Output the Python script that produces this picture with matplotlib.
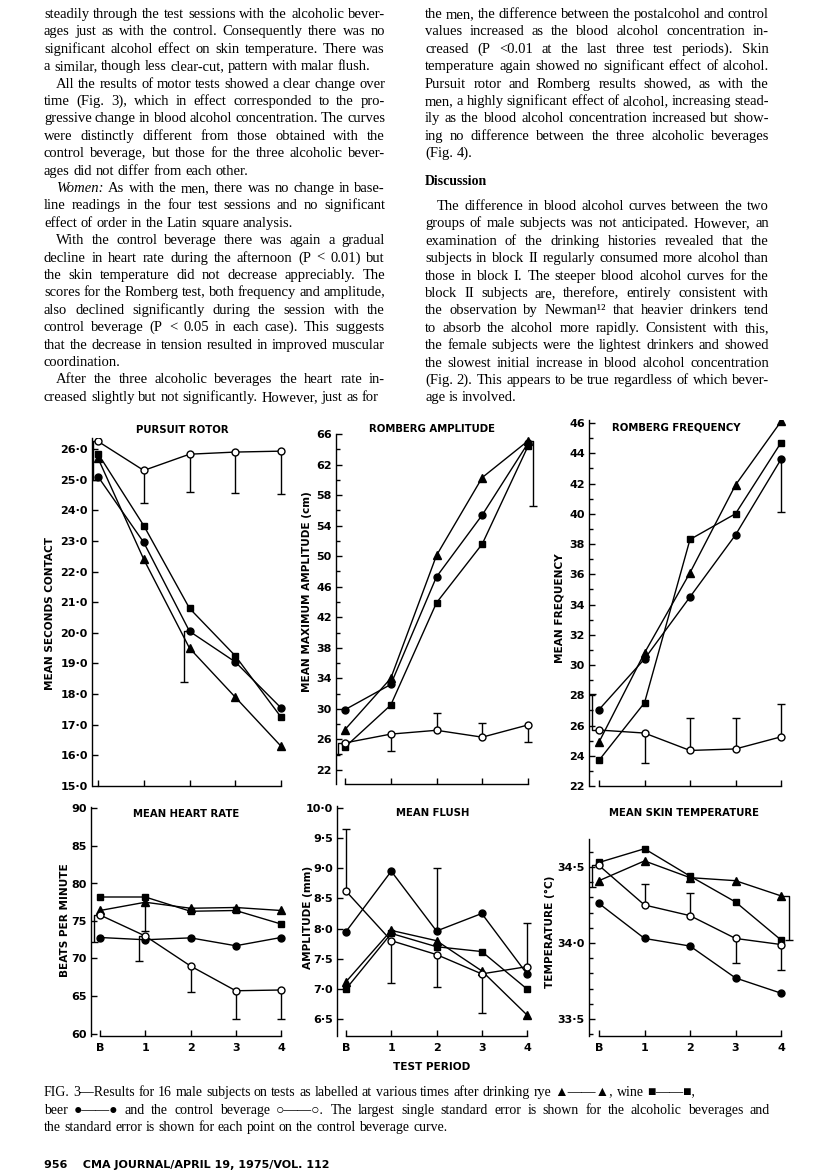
import numpy as np
import matplotlib
matplotlib.use('Agg')
import matplotlib.pyplot as plt
from matplotlib.ticker import FixedLocator, FuncFormatter

W, H = 816, 1175

#######################################################
# data (B = baseline, then test periods 1-4)
periods = [0, 1, 2, 3, 4]
period_labels = ['B', '1', '2', '3', '4']

# pursuit rotor
pr_rye = [25.7, 22.4, 19.5, 17.9, 16.3]
pr_wine = [25.85, 23.5, 20.8, 19.25, 17.25]
pr_beer = [25.1, 22.95, 20.05, 19.05, 17.55]
pr_control = [26.25, 25.3, 25.83, 25.9, 25.93]
pr_control_se = [-1.25, -1.05, -1.23, -1.34, -1.4]
pr_alc_se = (2, 20.05, -1.65)   # period, value, signed SE

# romberg amplitude
ra_rye = [27.3, 34.0, 50.1, 60.3, 65.1]
ra_wine = [25.0, 30.5, 43.9, 51.6, 64.4]
ra_beer = [29.9, 33.2, 47.3, 55.4, 64.8]
ra_control = [25.55, 26.7, 27.2, 26.3, 27.9]
ra_control_se = [-1.4, -2.2, 2.3, 1.85, -2.2]
ra_alc_se = (4, 65.1, -8.5)

# romberg frequency
rf_rye = [24.9, 30.8, 36.1, 41.9, 46.1]
rf_wine = [23.7, 27.5, 38.3, 40.0, 44.7]
rf_beer = [27.05, 30.4, 34.5, 38.6, 43.6]
rf_control = [25.7, 25.5, 24.35, 24.45, 25.25]
rf_control_se = [2.4, -1.95, 2.15, 2.05, 2.15]
rf_alc_se = (4, 43.6, -3.5)

# heart rate
hr_rye = [76.4, 77.5, 76.7, 76.8, 76.4]
hr_wine = [78.2, 78.2, 76.3, 76.4, 74.6]
hr_beer = [72.8, 72.5, 72.75, 71.7, 72.8]
hr_control = [75.8, 73.0, 69.0, 65.7, 65.8]
hr_control_se = [-3.6, -3.3, -3.5, -3.7, -3.8]
hr_alc_se = (1, 78.2, -4.6)

# flush
fl_rye = [7.12, 7.97, 7.8, 7.3, 6.57]
fl_wine = [7.0, 7.92, 7.7, 7.62, 7.0]
fl_beer = [7.95, 8.95, 7.96, 8.25, 7.25]
fl_control = [8.62, 7.8, 7.57, 7.25, 7.37]
fl_control_se = [1.03, -0.7, -0.54, -0.65, 0.72]
fl_alc_se = (2, 7.96, 1.04)

# skin temperature
st_rye = [34.41, 34.54, 34.43, 34.41, 34.31]
st_wine = [34.53, 34.62, 34.44, 34.27, 34.02]
st_beer = [34.26, 34.03, 33.98, 33.77, 33.67]
st_control = [34.51, 34.25, 34.18, 34.03, 33.99]
st_control_se = [-0.14, 0.14, 0.15, -0.16, -0.17]
st_alc_se = (4, 34.31, -0.29)

#######################################################
# page text
left_col = [
    (False, ["steadily through the test sessions with the alcoholic bever-",
             "ages just as with the control. Consequently there was no",
             "significant alcohol effect on skin temperature. There was",
             "a similar, though less clear-cut, pattern with malar flush."]),
    (True, ["All the results of motor tests showed a clear change over",
            "time (Fig. 3), which in effect corresponded to the pro-",
            "gressive change in blood alcohol concentration. The curves",
            "were distinctly different from those obtained with the",
            "control beverage, but those for the three alcoholic bever-",
            "ages did not differ from each other."]),
    (True, ["_Women: As with the men, there was no change in base-",
            "line readings in the four test sessions and no significant",
            "effect of order in the Latin square analysis."]),
    (True, ["With the control beverage there was again a gradual",
            "decline in heart rate during the afternoon (P < 0.01) but",
            "the skin temperature did not decrease appreciably. The",
            "scores for the Romberg test, both frequency and amplitude,",
            "also declined significantly during the session with the",
            "control beverage (P < 0.05 in each case). This suggests",
            "that the decrease in tension resulted in improved muscular",
            "coordination."]),
    (True, ["After the three alcoholic beverages the heart rate in-",
            "creased slightly but not significantly. However, just as for"]),
]
right_col_1 = [
    (False, ["the men, the difference between the postalcohol and control",
             "values increased as the blood alcohol concentration in-",
             "creased (P <0.01 at the last three test periods). Skin",
             "temperature again showed no significant effect of alcohol.",
             "Pursuit rotor and Romberg results showed, as with the",
             "men, a highly significant effect of alcohol, increasing stead-",
             "ily as the blood alcohol concentration increased but show-",
             "ing no difference between the three alcoholic beverages",
             "(Fig. 4)."]),
]
heading = "Discussion"
right_col_2 = [
    (True, ["The difference in blood alcohol curves between the two",
            "groups of male subjects was not anticipated. However, an",
            "examination of the drinking histories revealed that the",
            "subjects in block II regularly consumed more alcohol than",
            "those in block I. The steeper blood alcohol curves for the",
            "block II subjects are, therefore, entirely consistent with",
            "the observation by Newman\u00b9\u00b2 that heavier drinkers tend",
            "to absorb the alcohol more rapidly. Consistent with this,",
            "the female subjects were the lightest drinkers and showed",
            "the slowest initial increase in blood alcohol concentration",
            "(Fig. 2). This appears to be true regardless of which bever-",
            "age is involved."]),
]
caption = [
    ("FIG. 3\u2014Results for 16 male subjects on tests as labelled at various times after drinking rye \u25b2\u2014\u2014\u25b2, wine \u25a0\u2014\u2014\u25a0,", False),
    ("beer \u25cf\u2014\u2014\u25cf and the control beverage \u25cb\u2014\u2014\u25cb. The largest single standard error is shown for the alcoholic beverages and", True),
    ("the standard error is shown for each point on the control beverage curve.", False),
]
footer = "956    CMA JOURNAL/APRIL 19, 1975/VOL. 112"

SANS = ['DejaVu Sans']
SERIF = ['Liberation Serif', 'DejaVu Sans']

fig = plt.figure(figsize=(W / 100, H / 100), dpi=100)
fig.patch.set_facecolor('white')
renderer = fig.canvas.get_renderer()


def fx(px):
    return px / W


def fy(py):
    return 1 - py / H


_wcache = {}


def text_w(s, size, style='normal', weight='normal', family=SERIF):
    key = (s, size, style, weight)
    if key not in _wcache:
        t = fig.text(0, 0, s, fontsize=size, fontstyle=style, fontweight=weight, family=family)
        _wcache[key] = t.get_window_extent(renderer).width
        t.remove()
    return _wcache[key]


def split_words(line):
    out = []
    for w in line.split(' '):
        if w.startswith('_'):
            out.append((w[1:], 'italic'))
        else:
            out.append((w, 'normal'))
    return out


def space_w(size):
    return text_w('a a', size) - text_w('aa', size)


def set_line(line, x0, x1, base, size, justify, weight='normal'):
    words = split_words(line)
    ws = [text_w(w, size, st, weight) for w, st in words]
    if justify and len(words) > 1:
        gap = (x1 - x0 - sum(ws)) / (len(words) - 1)
    else:
        gap = space_w(size)
    x = x0
    for (w, st), wd in zip(words, ws):
        fig.text(fx(x), fy(base), w, fontsize=size, fontstyle=st, fontweight=weight,
                 family=SERIF, ha='left', va='baseline')
        x += wd + gap


def fit_size(paras, width, indent, ref=12.0):
    worst = 0
    for ind, lines in paras:
        for i, line in enumerate(lines[:-1]):
            words = split_words(line)
            nat = sum(text_w(w, ref, st) for w, st in words) + (len(words) - 1) * space_w(ref) * 0.8
            nat += indent if (ind and i == 0) else 0
            worst = max(worst, nat / width)
    return min(ref, ref / worst)


def set_paras(paras, x0, x1, base0, step, size, indent):
    base = base0
    for ind, lines in paras:
        for i, line in enumerate(lines):
            xs = x0 + (indent if (ind and i == 0) else 0)
            set_line(line, xs, x1, base, size, i < len(lines) - 1)
            base += step
    return base


LX0, LX1 = 44, 385
RX0, RX1 = 425, 769
STEP = 17.4
INDENT = 12
fs_body = min(fit_size(left_col, LX1 - LX0, INDENT),
              fit_size(right_col_1 + right_col_2, RX1 - RX0, INDENT))

set_paras(left_col, LX0, LX1, 18, STEP, fs_body, INDENT)
set_paras(right_col_1, RX0, RX1, 18, STEP, fs_body, INDENT)
fig.text(fx(RX0), fy(185), heading, fontsize=fs_body * 0.95, fontweight='bold', family=SERIF,
         ha='left', va='baseline')
set_paras(right_col_2, RX0, RX1, 210, STEP, fs_body, INDENT)

# caption
cap_words = split_words(caption[1][0])
cap_nat = sum(text_w(w, 10, st) for w, st in cap_words) + (len(cap_words) - 1) * space_w(10) * 0.8
fs_cap = min(10, 10 * (770 - 44) / cap_nat)
for (line, just), base in zip(caption, [1096, 1114, 1131]):
    set_line(line, 44, 770, base, fs_cap, just)

fig.text(fx(44), fy(1168), footer, fontsize=8, fontweight='bold', family=SANS,
         ha='left', va='baseline')

#######################################################
# the six panels


def fmt_dot(decimals):
    def f(v, pos):
        return ('{:.%df}' % decimals).format(v).replace('.', '\u00b7')
    return FuncFormatter(f)


def se_bar(ax, x, y, se, dx=0.0):
    end = y + se
    xs = x + dx
    if dx == 0:
        ax.plot([xs, xs], [y, end], color='k', lw=1.0, zorder=2, solid_capstyle='butt')
    else:
        ax.plot([x, xs, xs], [y, y, end], color='k', lw=1.0, zorder=2, solid_capstyle='butt')
    ax.plot([xs], [end], marker='_', ms=6, mew=1.0, color='k', zorder=2)


panels = [
    dict(title='PURSUIT ROTOR', ylabel='MEAN SECONDS CONTACT',
         series=(pr_rye, pr_wine, pr_beer, pr_control, pr_control_se), alc=pr_alc_se,
         box=(92, 287, 438, 786), xref=(98, 281), yref=((26.0, 449), (15.0, 786)),
         major=np.arange(15.0, 26.01, 1.0), minor=[], dec=1, bottom=False,
         title_xy=(182, 430), ylabel_xy=(50, 613), ctrl_dx=[-0.1, 0, 0, 0, 0], alc_dx=-0.13),
    dict(title='ROMBERG AMPLITUDE', ylabel='MEAN MAXIMUM AMPLITUDE (cm)',
         series=(ra_rye, ra_wine, ra_beer, ra_control, ra_control_se), alc=ra_alc_se,
         box=(336, 540, 434, 784), xref=(345, 528), yref=((66, 434), (22, 770)),
         major=np.arange(22, 67, 4), minor=np.arange(24, 65, 4), dec=0, bottom=False,
         title_xy=(432, 429), ylabel_xy=(307, 592), ctrl_dx=[-0.15, 0, 0, 0, 0], alc_dx=0.12),
    dict(title='ROMBERG FREQUENCY', ylabel='MEAN FREQUENCY',
         series=(rf_rye, rf_wine, rf_beer, rf_control, rf_control_se), alc=rf_alc_se,
         box=(589, 790, 420, 786), xref=(599, 781), yref=((46, 423), (22, 786)),
         major=np.arange(22, 47, 2), minor=np.arange(23, 46, 2), dec=0, bottom=False,
         title_xy=(676, 428), ylabel_xy=(560, 608), ctrl_dx=[-0.15, 0, 0, 0, 0], alc_dx=0.0),
    dict(title='MEAN HEART RATE', ylabel='BEATS PER MINUTE',
         series=(hr_rye, hr_wine, hr_beer, hr_control, hr_control_se), alc=hr_alc_se,
         box=(91, 287, 807, 1036), xref=(100, 281), yref=((85, 846), (65, 996)),
         major=np.arange(60, 91, 5), minor=[], dec=0, bottom=True,
         title_xy=(186, 814), ylabel_xy=(65, 920), ctrl_dx=[-0.13, -0.13, 0, 0, 0], alc_dx=0.0),
    dict(title='MEAN FLUSH', ylabel='AMPLITUDE (mm)',
         series=(fl_rye, fl_wine, fl_beer, fl_control, fl_control_se), alc=fl_alc_se,
         box=(337, 540, 806, 1036), xref=(346, 527), yref=((9.5, 838), (7.0, 989)),
         major=np.arange(6.5, 10.01, 0.5), minor=[], dec=1, bottom=True,
         title_xy=(433, 813), ylabel_xy=(308, 917), ctrl_dx=[0, 0, 0, 0, 0], alc_dx=0.0),
    dict(title='MEAN SKIN TEMPERATURE', ylabel='TEMPERATURE (\u00b0C)',
         series=(st_rye, st_wine, st_beer, st_control, st_control_se), alc=st_alc_se,
         box=(589, 795, 839, 1036), xref=(599, 781), yref=((34.5, 867), (34.0, 943)),
         major=[33.5, 34.0, 34.5], minor=[33.4, 33.6, 33.7, 33.8, 33.9, 34.1, 34.2, 34.3, 34.4, 34.6, 34.7],
         dec=1, bottom=True,
         title_xy=(684, 813), ylabel_xy=(550, 932), ctrl_dx=[-0.15, 0, 0, 0, 0], alc_dx=0.17),
]

for p in panels:
    left, right, top, bottom = p['box']
    ax = fig.add_axes([fx(left), fy(bottom), (right - left) / W, (bottom - top) / H])
    ax.set_facecolor('none')
    x0p, x4p = p['xref']
    sx = (x4p - x0p) / 4.0
    ax.set_xlim((left - x0p) / sx, (right - x0p) / sx)
    (v1, p1), (v2, p2) = p['yref']
    sy = (p2 - p1) / (v2 - v1)
    ax.set_ylim(v1 + (bottom - p1) / sy, v1 + (top - p1) / sy)

    rye, wine, beer, control, control_se = p['series']
    ax.plot(periods, rye, color='k', lw=1.0, marker='^', ms=5.5, mfc='k', mec='k', zorder=3)
    ax.plot(periods, wine, color='k', lw=1.0, marker='s', ms=5, mfc='k', mec='k', zorder=3)
    ax.plot(periods, beer, color='k', lw=1.0, marker='o', ms=5, mfc='k', mec='k', zorder=3)
    ax.plot(periods, control, color='k', lw=1.0, marker='o', ms=5, mfc='white', mec='k',
            mew=1.0, zorder=4)
    for x, y, se, dx in zip(periods, control, control_se, p['ctrl_dx']):
        se_bar(ax, x, y, se, dx)
    ap, av, ase = p['alc']
    se_bar(ax, ap, av, ase, p['alc_dx'])

    for s in ['top', 'right']:
        ax.spines[s].set_visible(False)
    ax.spines['bottom'].set_bounds(0, 4)
    for s in ['left', 'bottom']:
        ax.spines[s].set_linewidth(1.0)

    ax.set_xticks(periods)
    ax.yaxis.set_major_locator(FixedLocator(p['major']))
    ax.yaxis.set_minor_locator(FixedLocator(p['minor']))
    ax.yaxis.set_major_formatter(fmt_dot(p['dec']))
    ax.tick_params(axis='y', which='major', direction='in', length=4, width=1.0, pad=3,
                   labelsize=8)
    ax.tick_params(axis='y', which='minor', direction='in', length=3, width=1.0)
    ax.tick_params(axis='x', direction='in', length=4, width=1.0, pad=5, labelsize=8)
    if p['bottom']:
        ax.set_xticklabels(period_labels)
    else:
        ax.set_xticklabels([])
    for lab in ax.get_yticklabels() + ax.get_xticklabels():
        lab.set_fontweight('bold')

    tx, ty = p['title_xy']
    fig.text(fx(tx), fy(ty), p['title'], fontsize=7.3, fontweight='bold', family=SANS,
             ha='center', va='center')
    lx, ly = p['ylabel_xy']
    fig.text(fx(lx), fy(ly), p['ylabel'], fontsize=7.6, fontweight='bold', family=SANS,
             ha='center', va='center', rotation=90)

fig.text(fx(432), fy(1067), 'TEST PERIOD', fontsize=7.6, fontweight='bold', family=SANS,
         ha='center', va='center')

fig.savefig('out.png', dpi=100)
